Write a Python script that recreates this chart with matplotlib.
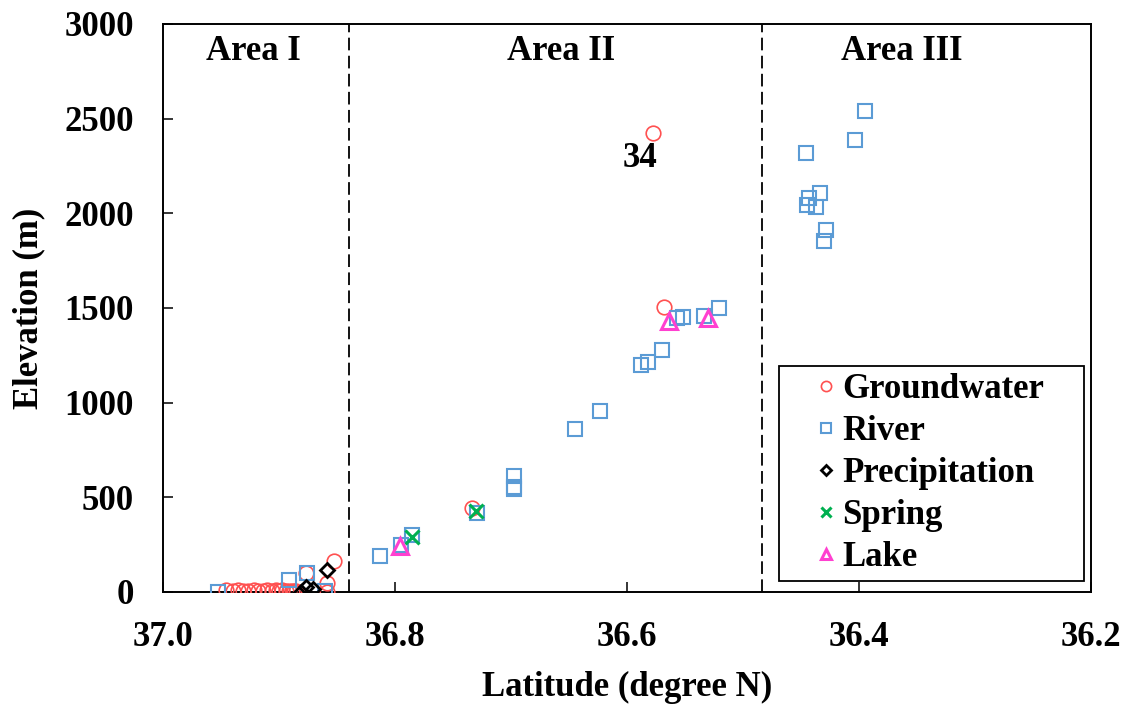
import matplotlib.pyplot as plt
from matplotlib.legend_handler import HandlerLine2D
from matplotlib.lines import Line2D

plt.rcParams['font.family'] = ['Liberation Serif', 'DejaVu Serif']
plt.rcParams['font.weight'] = 'bold'

# groundwater samples
gw_lat = [36.578, 36.568, 36.734, 36.853, 36.877, 36.859, 36.859,
          36.946, 36.940, 36.935, 36.931, 36.927, 36.922, 36.918, 36.914,
          36.910, 36.906, 36.903, 36.900, 36.897, 36.894, 36.891, 36.889,
          36.887, 36.885]
gw_elev = [2424, 1505, 444, 164, 100, 45, 2,
           8, 5, 10, 6, 4, 9, 7, 5,
           10, 6, 8, 4, 9, 5, 7, 3,
           6, 4]

# river samples
rv_lat = [36.953, 36.891, 36.876, 36.860,
          36.813, 36.795, 36.785, 36.729, 36.697, 36.697, 36.697,
          36.645, 36.623, 36.588, 36.582, 36.570, 36.557, 36.552,
          36.534, 36.521,
          36.395, 36.403, 36.446, 36.434, 36.443, 36.445, 36.437,
          36.428, 36.430]
rv_elev = [2, 63, 100, 5,
           190, 248, 301, 417, 613, 555, 545,
           861, 956, 1199, 1215, 1278, 1447, 1452,
           1458, 1500,
           2541, 2387, 2319, 2107, 2081, 2044, 2034,
           1912, 1854]

# precipitation
pr_lat = [36.859, 36.871, 36.877, 36.881]
pr_elev = [116, 18, 28, 2]

# spring
sp_lat = [36.785, 36.730]
sp_elev = [290, 428]

# lake
lk_lat = [36.796, 36.564, 36.530]
lk_elev = [243, 1431, 1447]

boundaries = [36.84, 36.484]
areas = ['Area I', 'Area II', 'Area III']
area_x = [36.922, 36.657, 36.363]

FS = 25

fig = plt.figure(figsize=(11.29, 7.07), dpi=100)
ax = fig.add_axes([0.1444, 0.1627, 0.8219, 0.8034])

ax.plot(gw_lat, gw_elev, 'o', ls='none', ms=10.5, mfc='none', mec='#FF5050',
        mew=1.2, label='Groundwater', zorder=3)
ax.plot(rv_lat, rv_elev, 's', ls='none', ms=10.5, mfc='none', mec='#5B9BD5',
        mew=1.5, label='River', zorder=3)
ax.plot(pr_lat, pr_elev, 'D', ls='none', ms=7, mfc='none', mec='black',
        mew=2, label='Precipitation', zorder=4)
ax.plot(sp_lat, sp_elev, 'x', ls='none', ms=10, mec='#00B050',
        mew=2.2, label='Spring', zorder=4)
ax.plot(lk_lat, lk_elev, '^', ls='none', ms=11, mfc='none', mec='#FF40D0',
        mew=2.2, label='Lake', zorder=4)

for b in boundaries:
    ax.axvline(b, color='black', ls=(0, (7, 3)), lw=1.3, zorder=1)

for name, x in zip(areas, area_x):
    ax.text(x, 2852, name, ha='center', va='center', fontsize=FS,
            fontweight='bold')

ax.text(36.589, 2292, '34', ha='center', va='center', fontsize=FS,
        fontweight='bold')

ax.set_xlim(37.0, 36.2)
ax.set_ylim(0, 3000)
ax.set_xticks([37.0, 36.8, 36.6, 36.4, 36.2])
ax.set_xticklabels(['37.0', '36.8', '36.6', '36.4', '36.2'])
ax.set_yticks([0, 500, 1000, 1500, 2000, 2500, 3000])

ax.tick_params(direction='in', length=7, width=1.1, labelsize=FS)
ax.tick_params(axis='x', pad=21)
ax.tick_params(axis='y', pad=21)
for s in ax.spines.values():
    s.set_linewidth(1.4)

ax.set_xlabel('Latitude (degree N)', fontsize=FS, fontweight='bold', labelpad=12)
ax.set_ylabel('Elevation (m)', fontsize=FS, fontweight='bold', labelpad=14)

leg = ax.legend(loc='upper left', bbox_to_anchor=(0.664, 0.026, 0.329, 0.372),
                mode='expand', borderaxespad=0, fontsize=FS, markerscale=0.7,
                handlelength=1.42, handletextpad=0.2, labelspacing=0.26,
                borderpad=0.2, fancybox=False, edgecolor='black',
                framealpha=1,
                handler_map={Line2D: HandlerLine2D(xpad=0.85)})
leg.get_frame().set_linewidth(1.3)

fig.savefig('out.png', dpi=100)
